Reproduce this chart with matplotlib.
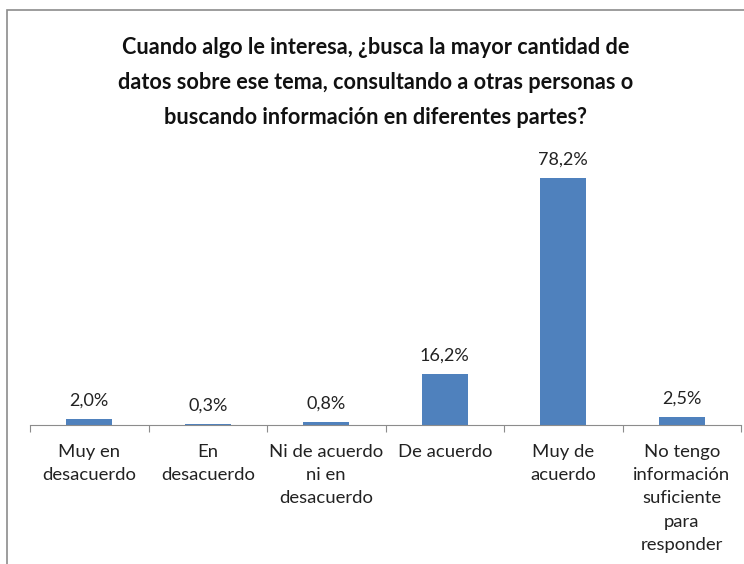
import numpy as np
from matplotlib import pyplot as plt
from matplotlib.patches import Rectangle

plt.rcParams['font.family'] = ['Lato', 'DejaVu Sans']

categorias = ["Muy en\ndesacuerdo", "En\ndesacuerdo", "Ni de acuerdo\nni en\ndesacuerdo",
              "De acuerdo", "Muy de\nacuerdo", "No tengo\ninformación\nsuficiente\npara\nresponder"]
valores = [2.0, 0.3, 0.8, 16.2, 78.2, 2.5]
etiquetas = ["2,0%", "0,3%", "0,8%", "16,2%", "78,2%", "2,5%"]
titulo = ("Cuando algo le interesa, ¿busca la mayor cantidad de\n"
          "datos sobre ese tema, consultando a otras personas o\n"
          "buscando información en diferentes partes?")

fig = plt.figure(figsize=(7.44, 5.64), dpi=100)

# chart border (cut off at right and bottom in the reference)
fig.patches.append(Rectangle((7/744, -0.05), 1.0, 0.05 + (564-10)/564,
                             transform=fig.transFigure, fill=False,
                             edgecolor='#8c8c8c', linewidth=1.2))

ax = fig.add_axes([30/744, (564-425)/564, 711/744, 284/564])
x = np.arange(len(valores))
ax.bar(x, valores, width=0.39, color='#4F81BD')
for xi, v, t in zip(x, valores, etiquetas):
    ax.text(xi, v + 3.3, t, ha='center', va='bottom', fontsize=13, color='#222222')

ax.set_xlim(-0.5, len(valores) - 0.5)
ax.set_ylim(0, 90)
ax.set_yticks([])
for s in ['top', 'right', 'left']:
    ax.spines[s].set_visible(False)
ax.spines['bottom'].set_color('#8c8c8c')

ax.set_xticks(np.arange(-0.5, len(valores)), minor=False)
ax.set_xticklabels([])
ax.tick_params(axis='x', length=5, color='#8c8c8c', direction='out')
for xi, c in zip(x, categorias):
    ax.text(xi, -6.0, c, ha='center', va='top', fontsize=13.3, color='#222222',
            linespacing=1.56, transform=ax.transData, clip_on=False)

fig.text(0.505, (564-37)/564, titulo, ha='center', va='top', fontsize=15.6,
         fontweight='bold', linespacing=1.83, color='#111111')

plt.savefig('out.png', dpi=100)
